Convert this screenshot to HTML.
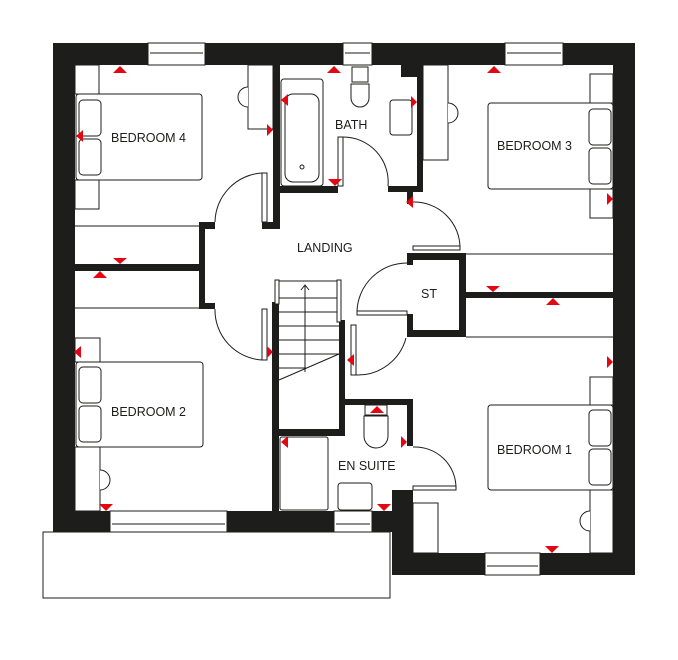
<!DOCTYPE html>
<html><head><style>body{margin:0;background:#fff}svg{display:block}text{font-family:"Liberation Sans",sans-serif;font-size:12.5px;fill:#1d1d1b}</style></head><body>
<svg width="678" height="660" viewBox="0 0 678 660" xmlns="http://www.w3.org/2000/svg">
<g fill="#1d1d1b">
<rect x="53" y="43" width="582" height="22"/>
<rect x="53" y="43" width="22" height="489"/>
<rect x="613" y="43" width="22" height="532"/>
<rect x="53" y="511" width="360" height="21"/>
<rect x="392" y="490" width="21" height="85"/>
<rect x="392" y="553" width="243" height="22"/>
<rect x="273" y="65" width="7" height="162"/>
<rect x="280" y="186" width="58" height="7"/>
<rect x="388" y="186" width="35" height="6"/>
<rect x="417" y="65" width="6" height="127"/>
<rect x="401" y="65" width="16" height="12"/>
<rect x="199" y="222" width="16" height="7"/>
<rect x="262" y="222" width="18" height="7"/>
<rect x="199" y="222" width="6" height="85"/>
<rect x="199" y="303" width="16" height="6"/>
<rect x="75" y="264" width="125" height="7"/>
<rect x="407" y="192" width="6" height="12"/>
<rect x="407" y="253" width="58" height="7"/>
<rect x="407" y="253" width="6" height="12"/>
<rect x="459" y="253" width="7" height="84"/>
<rect x="407" y="330" width="59" height="7"/>
<rect x="407" y="314" width="6" height="16"/>
<rect x="466" y="292" width="147" height="6"/>
<rect x="272" y="302" width="7" height="209"/>
<rect x="339" y="320" width="6" height="116"/>
<rect x="279" y="429" width="66" height="7"/>
<rect x="345" y="399" width="68" height="6"/>
<rect x="407" y="399" width="6" height="47"/>
</g>
<g fill="#fff" stroke="#1d1d1b" stroke-width="1">
<rect x="148" y="43" width="57" height="22"/><line x1="150" y1="53" x2="203" y2="53"/>
<rect x="343" y="43" width="29" height="22"/><line x1="345" y1="53" x2="370" y2="53"/>
<rect x="505" y="43" width="58" height="22"/><line x1="507" y1="53" x2="561" y2="53"/>
<rect x="110" y="511" width="117" height="22"/><line x1="112" y1="524" x2="225" y2="524"/>
<rect x="334" y="511" width="38" height="22"/><line x1="336" y1="524" x2="370" y2="524"/>
<rect x="485" y="553" width="55" height="22"/><line x1="487" y1="566" x2="538" y2="566"/>
<rect x="43" y="532" width="347" height="66"/>
<rect x="76" y="94" width="126" height="86" rx="3"/>
<rect x="79" y="100" width="22" height="36" rx="4"/><rect x="79" y="139" width="22" height="36" rx="4"/>
<rect x="488" y="103" width="125" height="86" rx="3"/>
<rect x="589" y="109" width="22" height="36" rx="4"/><rect x="589" y="148" width="22" height="36" rx="4"/>
<rect x="76" y="362" width="127" height="85" rx="3"/>
<rect x="79" y="367" width="22" height="36" rx="4"/><rect x="79" y="406" width="22" height="36" rx="4"/>
<rect x="488" y="405" width="125" height="85" rx="3"/>
<rect x="589" y="410" width="22" height="36" rx="4"/><rect x="589" y="449" width="22" height="36" rx="4"/>
<rect x="75" y="65" width="24" height="29"/><rect x="75" y="180" width="24" height="29"/>
<rect x="590" y="74" width="23" height="29"/><rect x="590" y="189" width="23" height="29"/>
<rect x="75" y="338" width="25" height="24"/><rect x="75" y="447" width="25" height="64"/>
<rect x="590" y="377" width="23" height="28"/><rect x="590" y="490" width="23" height="63"/>
<rect x="248" y="65" width="25" height="64"/><rect x="423" y="65" width="25" height="95"/>
<rect x="413" y="503" width="25" height="50"/>
<path d="M248 87 A10 10 0 0 0 248 107"/><path d="M448 103 A10 10 0 0 1 448 123"/>
<path d="M100 470 A10 10 0 0 1 100 490"/><path d="M590 511 A10 10 0 0 0 590 531"/>
<line x1="75" y1="226" x2="199" y2="226"/><line x1="75" y1="308" x2="199" y2="308"/>
<line x1="466" y1="254" x2="613" y2="254"/><line x1="466" y1="337" x2="613" y2="337"/>
<rect x="281" y="79" width="42" height="107" rx="3"/><rect x="285" y="94" width="34" height="88" rx="8"/>
<circle cx="302" cy="167" r="2"/>
<path d="M352 67 h16 v15 h-16z"/><path d="M351 84 h18 v14 a9 9 0 0 1 -18 0z"/>
<rect x="390" y="100" width="22" height="35" rx="3"/>
<rect x="280" y="437" width="48" height="73" rx="2"/>
<path d="M365 405 h22 v10 h-22z"/><path d="M364 416 h24 v20 a12 12 0 0 1 -24 0z"/>
<rect x="338" y="483" width="34" height="27" rx="3"/>
<rect x="262" y="173" width="5" height="49"/><path d="M262 173 A50 50 0 0 0 215 222" fill="none"/>
<rect x="262" y="309" width="5" height="51"/><path d="M215 309 A50 50 0 0 0 262 360" fill="none"/>
<rect x="338" y="137" width="5" height="49"/><path d="M343 137 A45 45 0 0 1 388 186" fill="none"/>
<rect x="413" y="246" width="47" height="4"/><path d="M413 202 A46 46 0 0 1 460 248" fill="none"/>
<rect x="357" y="311" width="50" height="4"/><path d="M357 311 A50 50 0 0 1 407 263" fill="none"/>
<rect x="351" y="325" width="5" height="50"/><path d="M356 375 A50 50 0 0 0 406 338" fill="none"/>
<rect x="413" y="486" width="43" height="4"/><path d="M413 447 A41 41 0 0 1 456 488" fill="none"/>
<line x1="279" y1="298" x2="339" y2="298"/><line x1="279" y1="312" x2="339" y2="312"/>
<line x1="279" y1="326" x2="339" y2="326"/><line x1="279" y1="340" x2="339" y2="340"/>
<line x1="279" y1="354" x2="339" y2="354"/><line x1="279" y1="368" x2="306" y2="368"/>
<line x1="279" y1="380" x2="339" y2="354"/>
<line x1="305" y1="285" x2="305" y2="372"/><path d="M301 290 L305 285 L309 290" fill="none"/>
<rect x="275" y="280" width="4" height="24"/><rect x="337" y="280" width="4" height="42"/>
<line x1="279" y1="281" x2="337" y2="281"/>
</g>
<g fill="#e30613">
<path d="M113 73 l7 -7 l7 7z"/><path d="M83 130 l-7 6 l7 6z"/><path d="M267 124 l6 6 l-6 6z"/>
<path d="M288 94 l-7 6 l7 6z"/><path d="M327 73 l7 -7 l7 7z"/><path d="M328 179 l7 7 l7 -7z"/>
<path d="M411 96 l6 6 l-6 6z"/><path d="M487 73 l7 -7 l7 7z"/><path d="M413 196 l-7 6 l7 6z"/>
<path d="M607 193 l6 6 l-6 6z"/><path d="M113 258 l7 6 l7 -6z"/><path d="M93 278 l7 -7 l7 7z"/>
<path d="M486 286 l7 6 l7 -6z"/><path d="M546 305 l7 -7 l7 7z"/><path d="M81 346 l-7 6 l7 6z"/>
<path d="M267 346 l6 6 l-6 6z"/><path d="M354 354 l-7 6 l7 6z"/><path d="M607 356 l6 6 l-6 6z"/>
<path d="M370 413 l7 -7 l7 7z"/><path d="M288 436 l-7 6 l7 6z"/><path d="M401 436 l6 6 l-6 6z"/>
<path d="M99 504 l7 7 l7 -7z"/><path d="M377 504 l7 7 l7 -7z"/><path d="M545 546 l7 7 l7 -7z"/>
</g>
<text x="111" y="142">BEDROOM 4</text>
<text x="335" y="129">BATH</text>
<text x="497" y="150">BEDROOM 3</text>
<text x="297" y="252">LANDING</text>
<text x="421" y="298">ST</text>
<text x="111" y="416">BEDROOM 2</text>
<text x="338" y="470">EN SUITE</text>
<text x="497" y="454">BEDROOM 1</text>
</svg>
</body></html>
